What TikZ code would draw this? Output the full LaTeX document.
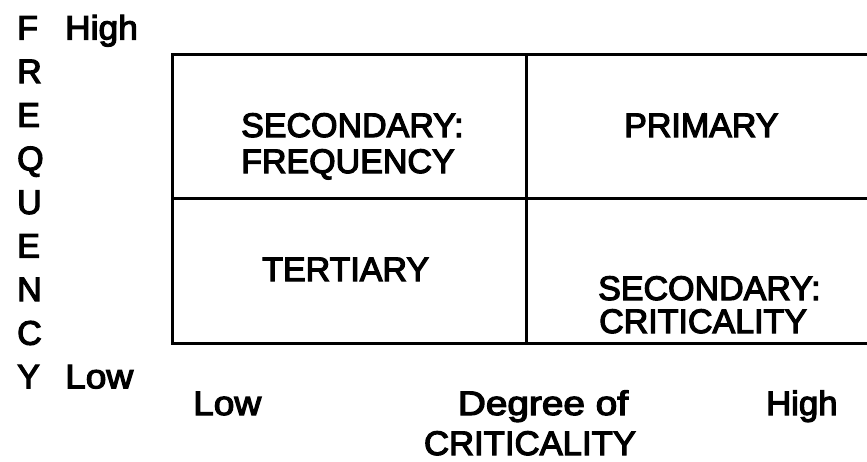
\documentclass[tikz,border=0pt]{standalone}
\usepackage{fontspec}
\setmainfont{Liberation Sans}
\newfontfamily\labelfont{Liberation Sans}[FakeBold=3.5]
% horizontal-only widening for the lowercase axis words
\newcommand{\hstretch}[2]{\scalebox{#1}[1]{#2}}
\begin{document}
\begin{tikzpicture}[x=1pt,y=-1pt,
  lbl/.style={inner sep=0pt, font=\labelfont\fontsize{34}{37}\selectfont},
  gridline/.style={line width=3pt, line cap=rect}]
\useasboundingbox (0,0) rectangle (867,461);

% corners of the 2x2 matrix (open on the right)
\coordinate (tl) at (172,54);  \coordinate (tm) at (526,54);  \coordinate (tr) at (867,54);
\coordinate (ml) at (172,198); \coordinate (mr) at (867,198);
\coordinate (bl) at (172,343); \coordinate (bm) at (526,343); \coordinate (br) at (867,343);
\draw[gridline] (tr) -- (tl) -- (bl) -- (br);
\draw[gridline] (ml) -- (mr);
\draw[gridline] (tm) -- (bm);

% quadrant labels
\node[lbl, anchor=base west] (sf1) at (241,137) {SECONDARY:};
\node[lbl, anchor=base west] (sf2) at (241,173) {FREQUENCY};
\node[lbl, anchor=base west] (pri) at (624,137) {PRIMARY};
\node[lbl, anchor=base west] (ter) at (262,281) {TERTIARY};
\node[lbl, anchor=base west] (sc1) at (598,300) {SECONDARY:};
\node[lbl, anchor=base west] (sc2) at (599,333) {CRITICALITY};

% vertical axis title, one letter per line
\foreach \ch [count=\i from 0] in {F,R,E,Q,U,E,N,C,Y}
  \node[lbl, anchor=base west] (v\i) at (17,39.5+43.6*\i) {\ch};
\node[lbl, anchor=base west] (fhigh) at (65,39.5) {\hstretch{1.04}{High}};
\node[lbl, anchor=base west] (flow)  at (65,388.3) {\hstretch{1.09}{Low}};

% horizontal axis
\node[lbl, anchor=base west] (clow)  at (193,415) {\hstretch{1.09}{Low}};
\node[lbl, anchor=base]      (deg)   at (543,415) {\hstretch{1.14}{Degree of}};
\node[lbl, anchor=base]      (crit)  at (530,455) {\hstretch{1.02}{CRITICALITY}};
\node[lbl, anchor=base west] (chigh) at (766,415) {\hstretch{1.02}{High}};
\end{tikzpicture}
\end{document}
